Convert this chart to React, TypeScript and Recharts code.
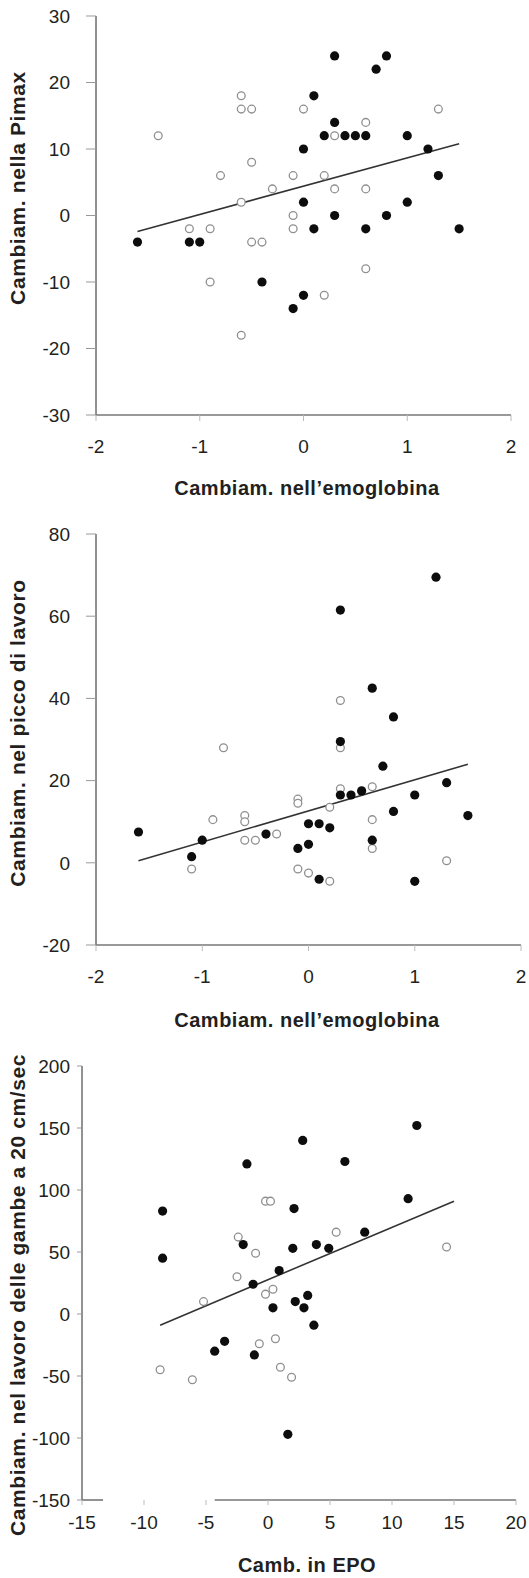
import React from 'react';
import { ScatterChart, Scatter, XAxis, YAxis, ReferenceLine } from 'recharts';

// Pannello 1: emoglobina vs Pimax
const pimaxFilledX = [-1.6, -1.1, -1.0, 0.3, 0.8, 0.7, 0.1, 0.3, 0.2, 0.4, 0.5, 0.6, 1.0, 0.0, 1.2, 1.3, 0.0, 1.0, 0.3, 0.8, 0.1, 0.6, 1.5, -0.4, 0.0, -0.1];
const pimaxFilledY = [-4, -4, -4, 24, 24, 22, 18, 14, 12, 12, 12, 12, 12, 10, 10, 6, 2, 2, 0, 0, -2, -2, -2, -10, -12, -14];
const pimaxOpenX = [-1.4, -0.6, -0.6, -0.5, 0.0, 0.6, 1.3, 0.3, -0.5, -0.8, -0.1, 0.2, -0.3, 0.3, 0.6, -0.6, -0.1, -1.1, -0.9, -0.1, -0.5, -0.4, 0.6, -0.9, 0.2, -0.6];
const pimaxOpenY = [12, 18, 16, 16, 16, 14, 16, 12, 8, 6, 6, 6, 4, 4, 4, 2, 0, -2, -2, -2, -4, -4, -8, -10, -12, -18];
const pimaxFitX = [-1.6, 1.5];
const pimaxFitY = [-2.4, 10.8];

// Pannello 2: emoglobina vs picco di lavoro
const piccoFilledX = [1.2, 0.3, 0.6, 0.8, 0.3, 0.7, 1.3, 0.3, 0.4, 0.5, 1.0, 0.8, 1.5, -1.6, 0.0, 0.1, 0.2, -0.4, -1.0, 0.6, -0.1, 0.0, -1.1, 0.1, 1.0];
const piccoFilledY = [69.5, 61.5, 42.5, 35.5, 29.5, 23.5, 19.5, 16.5, 16.5, 17.5, 16.5, 12.5, 11.5, 7.5, 9.5, 9.5, 8.5, 7, 5.5, 5.5, 3.5, 4.5, 1.5, -4, -4.5];
const piccoOpenX = [0.3, 0.3, -0.8, 0.3, 0.6, -0.1, -0.1, 0.2, 0.6, -0.9, -0.6, -0.6, -0.3, -0.6, -0.5, 0.6, 1.3, -1.1, -0.1, 0.0, 0.2];
const piccoOpenY = [39.5, 28, 28, 18, 18.5, 15.5, 14.5, 13.5, 10.5, 10.5, 11.5, 10, 7, 5.5, 5.5, 3.5, 0.5, -1.5, -1.5, -2.5, -4.5];
const piccoFitX = [-1.6, 1.5];
const piccoFitY = [0.5, 24];

// Pannello 3: EPO vs lavoro delle gambe
const gambeFilledX = [12, 2.8, 6.2, -1.7, 11.3, 2.1, -8.5, 7.8, -2.0, 3.9, 4.9, 2.0, -8.5, 0.9, -1.2, 3.2, 2.2, 0.4, 2.9, 3.7, -3.5, -4.3, -1.1, 1.6];
const gambeFilledY = [152, 140, 123, 121, 93, 85, 83, 66, 56, 56, 53, 53, 45, 35, 24, 15, 10, 5, 5, -9, -22, -30, -33, -97];
const gambeOpenX = [-0.2, 0.2, 5.5, 14.4, -2.4, -1.0, -2.5, 0.4, -0.2, -5.2, -0.7, 0.6, 1.0, 1.9, -8.7, -6.1];
const gambeOpenY = [91, 91, 66, 54, 62, 49, 30, 20, 16, 10, -24, -20, -43, -51, -45, -53];
const gambeFitX = [-8.7, 15];
const gambeFitY = [-9, 91];

const pts = (xs: number[], ys: number[]) => xs.map((x, i) => ({ x, y: ys[i] }));

const FONT = '"Liberation Sans", Arial, Helvetica, sans-serif';
const AXIS = '#777';
const TEXT = '#231f20';

const Filled = (p: any) => <circle cx={p.cx} cy={p.cy} r={4.6} fill="#0d0d0d" />;
const Open = (p: any) => <circle cx={p.cx} cy={p.cy} r={3.9} fill="#fff" stroke="#8f8f8f" strokeWidth={1.3} />;

function Panel(props: any) {
  const {
    top, height, margin, yWidth, xDomain, xTicks, yDomain, yTicks,
    filled, open, fitX, fitY, xTickSize, xTickMargin, yTickSize, yTickMargin, xAxisHeight, brokenAxis,
  } = props;
  const tickStyle = { fontSize: 19, fill: TEXT, fontFamily: FONT };
  return (
    <div style={{ position: 'absolute', left: 0, top }}>
      <ScatterChart width={529} height={height} margin={margin}>
        <XAxis
          type="number" dataKey="x" domain={xDomain} ticks={xTicks} interval={0}
          allowDataOverflow height={xAxisHeight}
          axisLine={brokenAxis ? false : { stroke: AXIS, strokeWidth: 1.6 }}
          tickLine={{ stroke: '#bbb' }} tickSize={xTickSize} tickMargin={xTickMargin}
          tick={tickStyle}
        />
        <YAxis
          type="number" dataKey="y" domain={yDomain} ticks={yTicks} interval={0}
          allowDataOverflow width={yWidth}
          axisLine={{ stroke: AXIS, strokeWidth: 1.6 }}
          tickLine={{ stroke: '#999' }} tickSize={yTickSize} tickMargin={yTickMargin}
          tick={tickStyle}
        />
        {brokenAxis && brokenAxis.map((seg: number[], i: number) => (
          <ReferenceLine key={i} segment={[{ x: seg[0], y: yDomain[0] }, { x: seg[1], y: yDomain[0] }]} stroke={AXIS} strokeWidth={1.6} />
        ))}
        <ReferenceLine
          segment={[{ x: fitX[0], y: fitY[0] }, { x: fitX[1], y: fitY[1] }]}
          stroke="#333" strokeWidth={1.6}
        />
        <Scatter data={open} shape={Open} isAnimationActive={false} />
        <Scatter data={filled} shape={Filled} isAnimationActive={false} />
      </ScatterChart>
    </div>
  );
}

const XTitle = ({ x, y, children }: any) => (
  <div style={{
    position: 'absolute', left: x, top: y, transform: 'translate(-50%, -50%)',
    fontFamily: FONT, fontWeight: 'bold', fontSize: 20, letterSpacing: 0.5, lineHeight: 1,
    whiteSpace: 'nowrap', color: TEXT,
  }}>{children}</div>
);

const YTitle = ({ x, y, children }: any) => (
  <div style={{
    position: 'absolute', left: x, top: y, transform: 'translate(-50%, -50%) rotate(-90deg)',
    fontFamily: FONT, fontWeight: 'bold', fontSize: 21, letterSpacing: 0.6, lineHeight: 1,
    whiteSpace: 'nowrap', color: TEXT,
  }}>{children}</div>
);

export default function App() {
  return (
    <div style={{ position: 'absolute', left: 0, top: 0, width: 529, height: 1578, background: '#fff', overflow: 'hidden' }}>
      <Panel
        top={0} height={470} margin={{ top: 16, right: 18, left: 0, bottom: 15 }} yWidth={96}
        xDomain={[-2, 2]} xTicks={[-2, -1, 0, 1, 2]} yDomain={[-30, 30]} yTicks={[-30, -20, -10, 0, 10, 20, 30]}
        filled={pts(pimaxFilledX, pimaxFilledY)} open={pts(pimaxOpenX, pimaxOpenY)}
        fitX={pimaxFitX} fitY={pimaxFitY}
        xTickSize={6} xTickMargin={19} yTickSize={10} yTickMargin={16} xAxisHeight={40}
      />
      <XTitle x={307} y={488}>Cambiam. nell’emoglobina</XTitle>
      <YTitle x={17} y={188}>Cambiam. nella Pimax</YTitle>

      <Panel
        top={500} height={490} margin={{ top: 34, right: 8, left: 0, bottom: 5 }} yWidth={96}
        xDomain={[-2, 2]} xTicks={[-2, -1, 0, 1, 2]} yDomain={[-20, 80]} yTicks={[-20, 0, 20, 40, 60, 80]}
        filled={pts(piccoFilledX, piccoFilledY)} open={pts(piccoOpenX, piccoOpenY)}
        fitX={piccoFitX} fitY={piccoFitY}
        xTickSize={6} xTickMargin={19} yTickSize={10} yTickMargin={16} xAxisHeight={40}
      />
      <XTitle x={307} y={1020}>Cambiam. nell’emoglobina</XTitle>
      <YTitle x={17} y={733}>Cambiam. nel picco di lavoro</YTitle>

      <Panel
        top={1040} height={538} margin={{ top: 26, right: 13, left: 0, bottom: 48 }} yWidth={82}
        xDomain={[-15, 20]} xTicks={[-15, -10, -5, 0, 5, 10, 15, 20]} yDomain={[-150, 200]} yTicks={[-150, -100, -50, 0, 50, 100, 150, 200]}
        filled={pts(gambeFilledX, gambeFilledY)} open={pts(gambeOpenX, gambeOpenY)}
        fitX={gambeFitX} fitY={gambeFitY}
        xTickSize={5} xTickMargin={11} yTickSize={5} yTickMargin={7} xAxisHeight={30}
        brokenAxis={[[-15, -13.3], [-4.3, 20]]}
      />
      <XTitle x={307} y={1565}>Camb. in EPO</XTitle>
      <YTitle x={17} y={1295}>Cambiam. nel lavoro delle gambe a 20 cm/sec</YTitle>
    </div>
  );
}
